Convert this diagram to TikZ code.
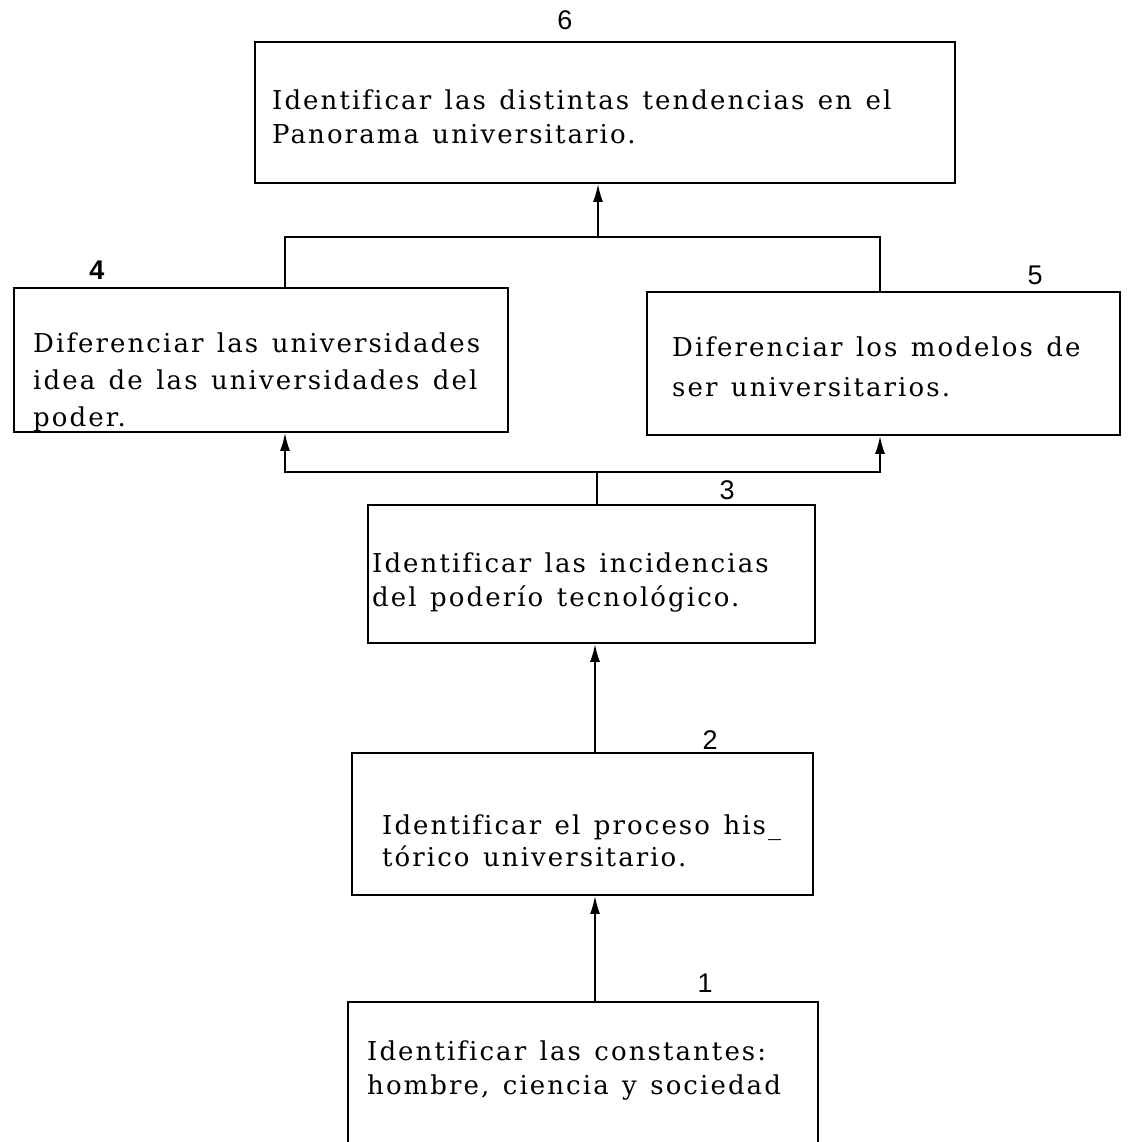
\documentclass[tikz,border=0pt]{standalone}
\usepackage{fontspec}
\setmainfont{DejaVu Serif}[LetterSpace=8, Ligatures=NoCommon, WordSpace=1.3]
\newfontfamily\numfont{Liberation Sans}
\usepackage{tikz}
\usetikzlibrary{arrows.meta}

\begin{document}
\begin{tikzpicture}
[box/.style={draw=black, line width=1.8pt, inner sep=0pt},
 txt/.style={anchor=west, align=left, inner sep=0pt, font=\fontsize{26pt}{34pt}\selectfont},
 num/.style={inner sep=0pt, font=\numfont\fontsize{27pt}{27pt}\selectfont},
 con/.style={line width=1.8pt},
 arr/.style={line width=1.8pt, -{Latex[length=18pt,width=10pt]}}]
\useasboundingbox (0pt, 0pt) rectangle (1143pt, -1141pt);
% boxes
\node (b6) [box, minimum width=700pt, minimum height=141pt] at (605pt, -112.5pt) {};
\node (b4) [box, minimum width=494pt, minimum height=144pt] at (261pt, -360pt) {};
\node (b5) [box, minimum width=473pt, minimum height=143pt] at (883.5pt, -363.5pt) {};
\node (b3) [box, minimum width=447pt, minimum height=138pt] at (591.5pt, -574pt) {};
\node (b2) [box, minimum width=461pt, minimum height=142pt] at (582.5pt, -824pt) {};
\node (b1) [box, minimum width=470pt, minimum height=170pt] at (583pt, -1087pt) {};
% texts
\node (t6) [txt] at (272pt, -116.5pt) {Identificar las distintas tendencias en el\\Panorama universitario.};
\node (t4) [txt, font=\fontsize{26pt}{37pt}\selectfont] at (33pt, -382pt) {Diferenciar las universidades\\idea de las universidades del\\poder.};
\node (t5) [txt, font=\fontsize{26pt}{40pt}\selectfont] at (672pt, -367pt) {Diferenciar los modelos de\\ser universitarios.};
\node (t3) [txt] at (372pt, -583pt) {Identificar las incidencias\\del poderío tecnológico.};
\node (t2) [txt, font=\fontsize{26pt}{32pt}\selectfont] at (382pt, -841pt) {Identificar el proceso his\_\\tórico universitario.};
\node (t1) [txt] at (367pt, -1070pt) {Identificar las constantes:\\hombre, ciencia y sociedad};
% numbers
\node (n6) [num] at (565pt, -20pt) {6};
\node (n4) [num] at (97pt, -270pt) {\bfseries 4};
\node (n5) [num] at (1035pt, -275pt) {5};
\node (n3) [num] at (727pt, -490pt) {3};
\node (n2) [num] at (710pt, -740pt) {2};
\node (n1) [num] at (705pt, -983pt) {1};
% connectors
\coordinate (tl) at (285pt, -237pt);
\coordinate (tm) at (598pt, -237pt);
\coordinate (tr) at (880pt, -237pt);
\coordinate (bl) at (285pt, -472pt);
\coordinate (bm) at (597pt, -472pt);
\coordinate (br) at (880pt, -472pt);
\coordinate (c2) at (595pt, -753pt);
\coordinate (c1) at (595pt, -1002pt);
\draw [con] (b4.north -| tl) -- (tl) -- (tr) -- (b5.north -| tr);
\draw [arr] (tm) -- (tm |- b6.south);
\draw [con] (b3.north -| bm) -- (bm);
\draw [arr] (bm) -- (bl) -- (bl |- b4.south);
\draw [arr] (bm) -- (br) -- (br |- b5.south);
\draw [arr] (b2.north -| c2) -- (c2 |- b3.south);
\draw [arr] (b1.north -| c1) -- (c1 |- b2.south);
\end{tikzpicture}
\end{document}
